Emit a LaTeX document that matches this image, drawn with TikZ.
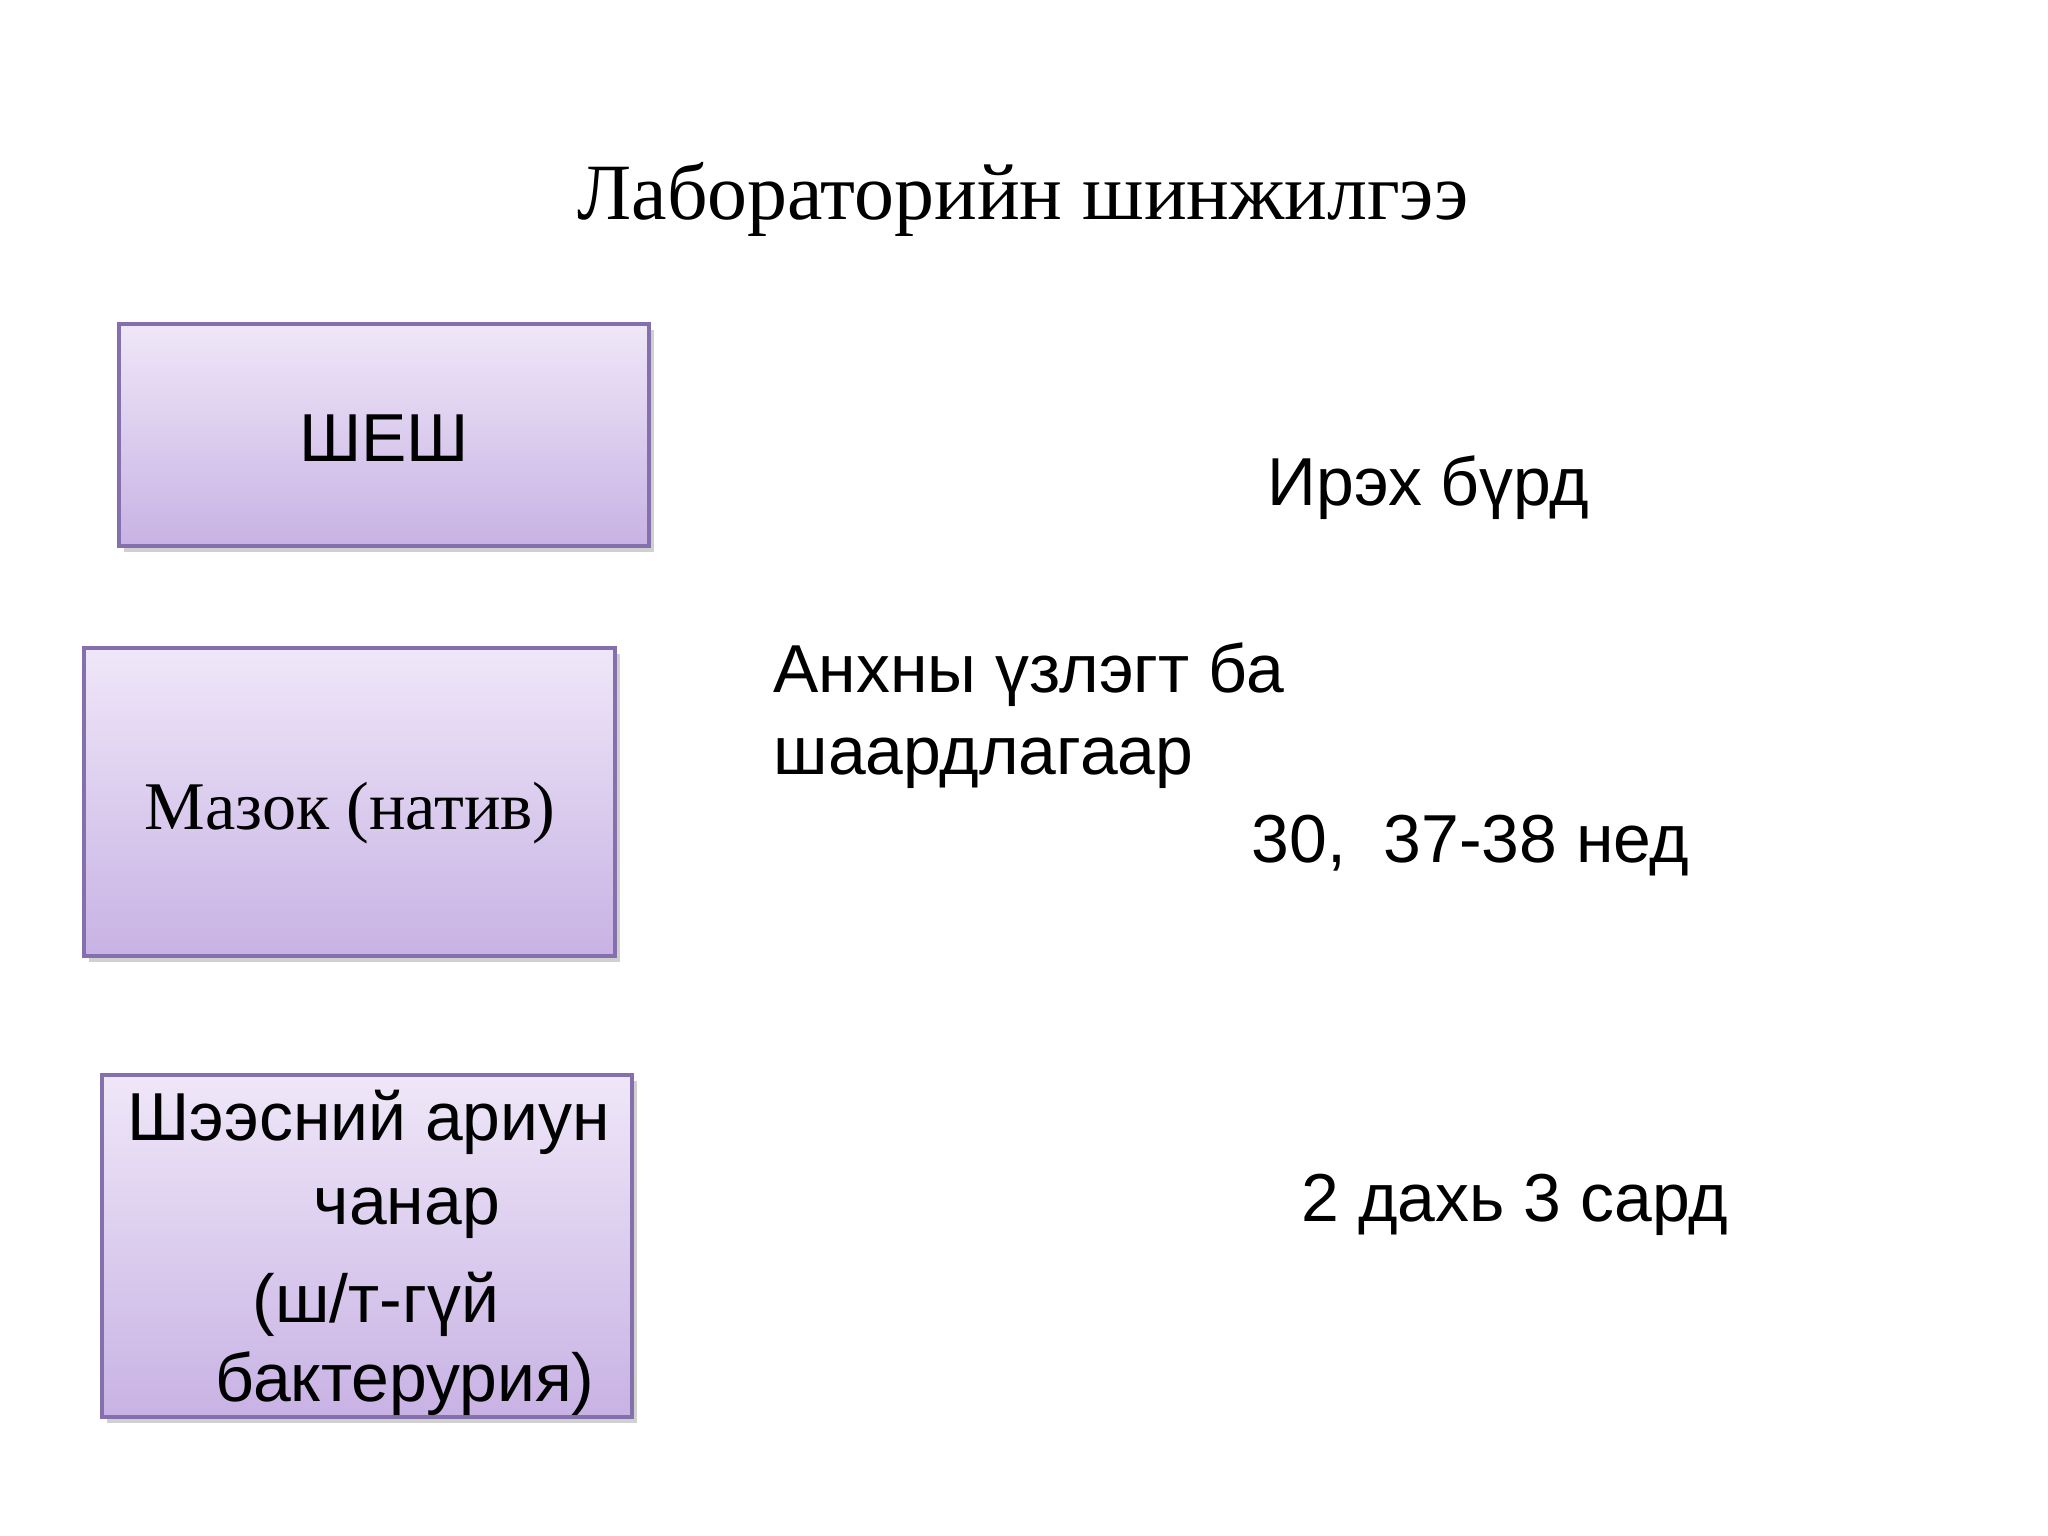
\documentclass[tikz,border=0pt]{standalone}
\usepackage{fontspec}
\setmainfont{Liberation Serif}
\setsansfont{Liberation Sans}
\usetikzlibrary{positioning,shadows,shadings}

\definecolor{boxtop}{HTML}{EFE7F8}
\definecolor{boxbottom}{HTML}{C8B2E4}
\definecolor{boxline}{HTML}{8470AD}

\tikzset{
  testbox/.style={rectangle, draw=boxline, line width=1.2pt,
    top color=boxtop, bottom color=boxbottom, minimum width=5.3cm,
    drop shadow={shadow xshift=0.05cm, shadow yshift=-0.06cm, opacity=0.3, fill=black!60}},
  sanstext/.style={font=\sffamily\fontsize{19.3}{23}\selectfont, inner sep=0pt, anchor=base west},
  serifbig/.style={font=\rmfamily\fontsize{19.4}{24}\selectfont, inner sep=0pt}
}

\begin{document}
\begin{tikzpicture}[x=0.01cm,y=-0.01cm]
		\useasboundingbox[fill=white] (0,0) rectangle (2048,1536);
		
		\node[font=\rmfamily\fontsize{22.7}{28}\selectfont, inner sep=0pt, anchor=base] (title) at (1023,219) {Лабораторийн шинжилгээ};
		
		% boxes on the left
		\node[testbox, minimum height=2.22cm] (shesh) at (384,435) {};
		\node[testbox, minimum height=3.08cm] (mazok) at (349.5,802) {};
		\node[testbox, minimum height=3.42cm] (sheesen) at (367,1246) {};
		
		\node[sanstext, anchor=base] (shesh-t) at (384,461) {ШЕШ};
		\node[serifbig, anchor=base] (mazok-t) at (350,829) {Мазок (натив)};
		
		\node[sanstext] (sh1) at (127,1140) {Шээсний ариун};
		\node[sanstext] (sh2) at (313,1224) {чанар};
		\node[sanstext] (sh3) at (252,1322) {(ш/т-гүй};
		\node[sanstext] (sh4) at (215,1401) {бактерурия)};
		
		% when
		\node[sanstext] (irekh) at (1267,505) {Ирэх бүрд};
		\node[sanstext] (ankh1) at (773,692) {Анхны үзлэгт ба};
		\node[sanstext] (ankh2) at (773,774) {шаардлагаар};
		\node[sanstext] (ned) at (1251,862) {30,\ \ 37-38 нед};
		\node[sanstext] (sar) at (1301,1221) {2 дахь 3 сард};

	\end{tikzpicture}
\end{document}
